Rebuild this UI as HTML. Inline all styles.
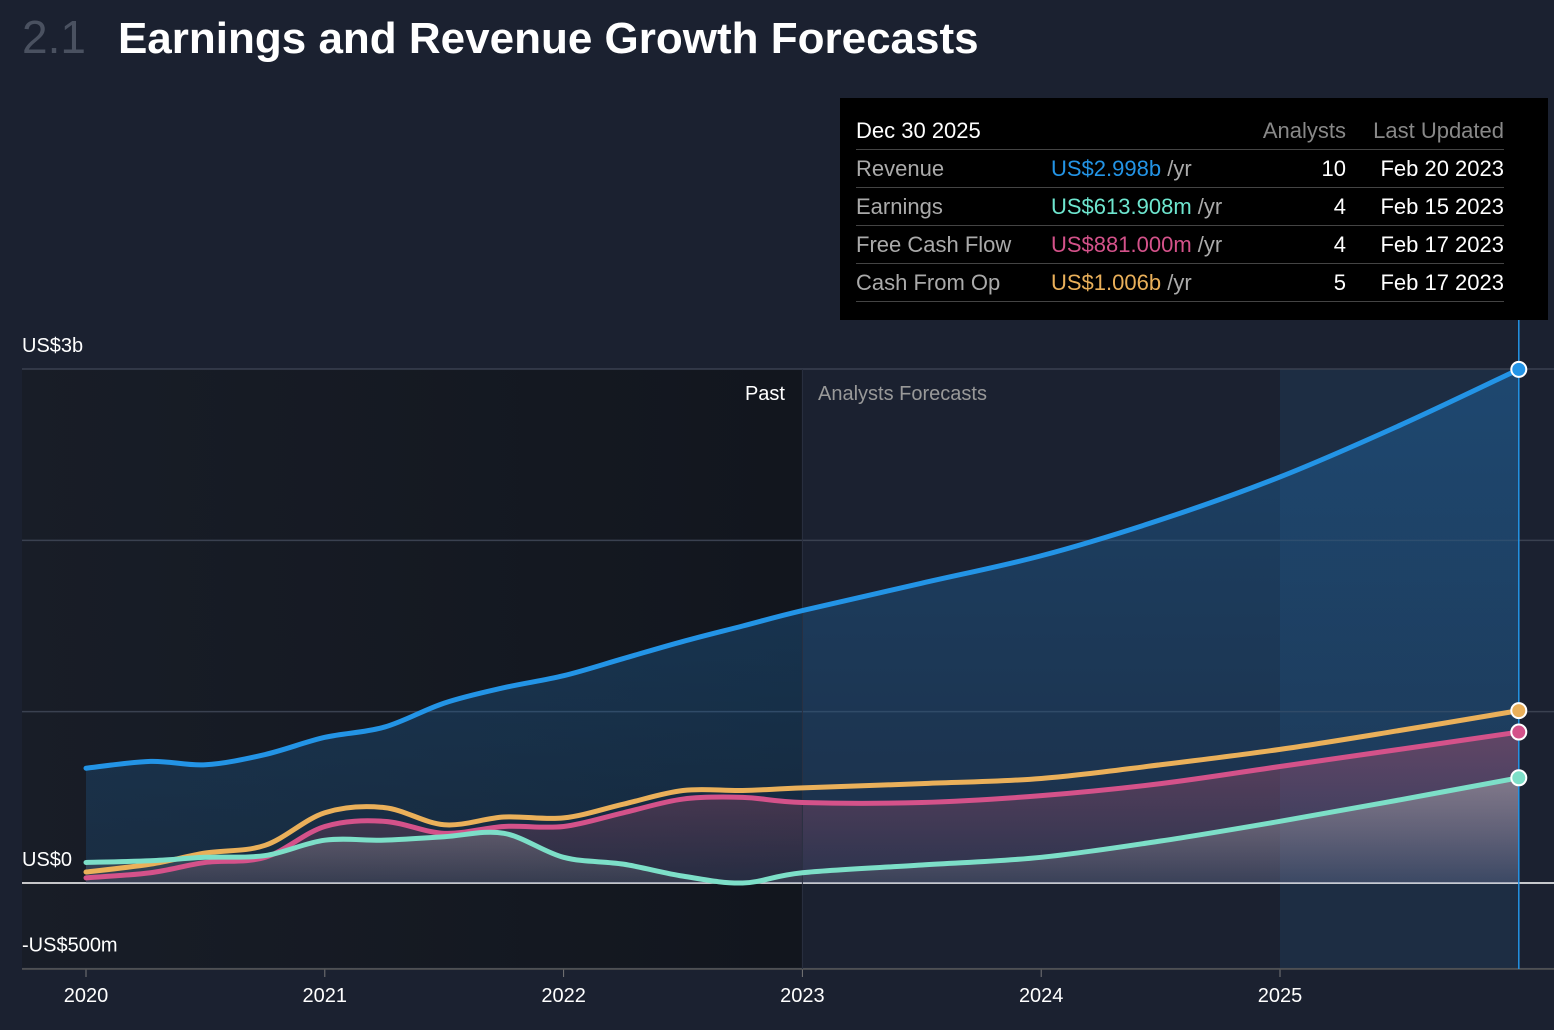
<!DOCTYPE html>
<html><head><meta charset="utf-8">
<style>
body{margin:0;background:#1b2130;font-family:"Liberation Sans",sans-serif;}
#wrap{position:relative;width:1554px;height:1030px;overflow:hidden;background:#1b2130;}
.title{position:absolute;top:10px;left:22px;font-size:44px;color:#fff;white-space:nowrap;font-weight:bold;}
.title .num{color:#4a5160;margin-right:32px;font-weight:normal;font-size:46px;}
#tip{position:absolute;left:840px;top:98px;width:708px;height:222px;background:#000;}
#tip table{position:absolute;left:16px;top:14px;width:648px;border-collapse:collapse;font-size:22px;table-layout:fixed;}
#tip td{height:37px;border-bottom:1.5px solid #444;color:#aaa;padding:0;white-space:nowrap;}
#tip tr:first-child td{color:#888;}
.r{text-align:right;}
.w{color:#fff!important;}
</style></head><body>
<div id="wrap">
<div class="title"><span class="num">2.1</span>Earnings and Revenue Growth Forecasts</div>
<svg id="chart" width="1554" height="1030" style="position:absolute;left:0;top:0"></svg>
<div id="tip">
<table>
<colgroup><col style="width:195px"><col style="width:195px"><col style="width:100px"><col style="width:158px"></colgroup>
<tr><td class="w">Dec 30 2025</td><td></td><td class="r">Analysts</td><td class="r">Last Updated</td></tr>
<tr><td>Revenue</td><td><span style="color:#2394e6">US$2.998b</span> /yr</td><td class="r w">10</td><td class="r w">Feb 20 2023</td></tr>
<tr><td>Earnings</td><td><span style="color:#6ee6cf">US$613.908m</span> /yr</td><td class="r w">4</td><td class="r w">Feb 15 2023</td></tr>
<tr><td>Free Cash Flow</td><td><span style="color:#d4528a">US$881.000m</span> /yr</td><td class="r w">4</td><td class="r w">Feb 17 2023</td></tr>
<tr><td>Cash From Op</td><td><span style="color:#eab05a">US$1.006b</span> /yr</td><td class="r w">5</td><td class="r w">Feb 17 2023</td></tr>
</table>
</div>
</div>
<script>
const dates=[2020,2020.27,2020.5,2020.75,2021,2021.25,2021.5,2021.75,2022,2022.25,2022.5,2022.75,2023,2023.5,2024,2024.5,2025,2025.5,2026];
const revenue=[0.67,0.71,0.69,0.75,0.85,0.91,1.05,1.14,1.21,1.31,1.41,1.50,1.59,1.75,1.91,2.12,2.37,2.67,2.998];
const cashFromOp=[0.064,0.11,0.175,0.22,0.41,0.44,0.34,0.385,0.38,0.46,0.54,0.54,0.555,0.58,0.61,0.69,0.78,0.89,1.006];
const freeCashFlow=[0.03,0.06,0.12,0.15,0.33,0.36,0.29,0.33,0.33,0.41,0.49,0.50,0.47,0.47,0.51,0.58,0.68,0.78,0.881];
const earnings=[0.12,0.13,0.15,0.16,0.25,0.25,0.27,0.29,0.15,0.11,0.04,0.0,0.06,0.105,0.15,0.245,0.36,0.485,0.614];
const yearTicks=[2020,2021,2022,2023,2024,2025];
const yTicks=[-0.5,0,1,2,3];
const yLabels={"-0.5":"-US$500m","0":"US$0","3":"US$3b"};
const X=t=>86+(t-2020)*238.8;
const Y=v=>883-v*171.33;
const svg=document.getElementById('chart');
const NS='http://www.w3.org/2000/svg';
function el(tag,attrs,parent){const e=document.createElementNS(NS,tag);for(const k in attrs)e.setAttribute(k,attrs[k]);(parent||svg).appendChild(e);return e;}
const defs=el('defs',{});
defs.innerHTML='<linearGradient id="gRev" x1="0" y1="0" x2="0" y2="1"><stop offset="0" stop-color="#1e5d94" stop-opacity="0.55"/><stop offset="1" stop-color="#1e5d94" stop-opacity="0.25"/></linearGradient><linearGradient id="gF" x1="0" y1="0" x2="0" y2="1"><stop offset="0" stop-color="#b5506f" stop-opacity="0.45"/><stop offset="1" stop-color="#b5506f" stop-opacity="0.1"/></linearGradient><linearGradient id="gE" x1="0" y1="0" x2="0" y2="1"><stop offset="0" stop-color="#bbbbbb" stop-opacity="0.45"/><stop offset="1" stop-color="#bbbbbb" stop-opacity="0.1"/></linearGradient><linearGradient id="gPast" x1="0" y1="0" x2="1" y2="0"><stop offset="0" stop-color="#181d27"/><stop offset="1" stop-color="#12161e"/></linearGradient>';
let r=el('rect',{x:22,y:369,width:X(2023)-22,height:600,fill:'url(#gPast)'});

r=el('rect',{x:X(2025),y:369,width:X(2026)-X(2025),height:600,fill:'#1f3550',opacity:0.6});

yTicks.forEach(v=>{
  const g=el('line',{x1:22,x2:1554,y1:Y(v),y2:Y(v),stroke:v===0?'#fff':'#3a4150','stroke-width':1.5});
  
  if(yLabels[String(v)]){const t=el('text',{x:22,y:Y(v)-17,fill:'#fff','font-size':20});t.textContent=yLabels[String(v)];
  }
});
yearTicks.forEach(y=>{
  el('line',{x1:X(y),x2:X(y),y1:969,y2:977,stroke:'#777'});
  const t=el('text',{x:X(y),y:1002,fill:'#fff','font-size':20,'text-anchor':'middle'});t.textContent=String(y);
  
});
function path(vals){
  const p=dates.map((d,i)=>[X(d),Y(vals[i])]);
  let s='M'+p[0][0]+','+p[0][1];
  for(let i=0;i<p.length-1;i++){
    const p0=p[i-1]||p[i],p1=p[i],p2=p[i+1],p3=p[i+2]||p2;
    const c1=[p1[0]+(p2[0]-p0[0])/6,p1[1]+(p2[1]-p0[1])/6];
    const c2=[p2[0]-(p3[0]-p1[0])/6,p2[1]-(p3[1]-p1[1])/6];
    s+=' C'+c1+' '+c2+' '+p2;
  }
  return s;
}
const base=' L'+X(2026)+','+Y(0)+' L'+X(2020)+','+Y(0)+' Z';
let a=el('path',{d:path(revenue)+base,fill:'url(#gRev)'});
a=el('path',{d:path(freeCashFlow)+base,fill:'url(#gF)'});
a=el('path',{d:path(earnings)+base,fill:'url(#gE)'});
el('line',{x1:22,x2:1554,y1:969,y2:969,stroke:'#555','stroke-width':1.5});
el('line',{x1:X(2023),x2:X(2023),y1:369,y2:969,stroke:'#2a3040'});
let t=el('text',{x:785,y:400,fill:'#fff','font-size':20,'text-anchor':'end'});t.textContent='Past';

t=el('text',{x:818,y:400,fill:'#999','font-size':20});t.textContent='Analysts Forecasts';

const series=[['revenue',revenue,'#2394e6'],['cash-from-op',cashFromOp,'#eab05a'],['free-cash-flow',freeCashFlow,'#d4528a'],['earnings',earnings,'#7ddfc8']];
series.forEach(([n,v,c])=>{
  const l=el('path',{d:path(v),fill:'none',stroke:c,'stroke-width':5,'stroke-linecap':'round'});
  
});
el('line',{x1:X(2026),x2:X(2026),y1:320,y2:969,stroke:'#2394e6','stroke-width':1.5});
series.forEach(([n,v,c])=>{
  const d=el('circle',{cx:X(2026),cy:Y(v[v.length-1]),r:7.5,fill:c,stroke:'#fff','stroke-width':2});
  
});
</script>
</body></html>
